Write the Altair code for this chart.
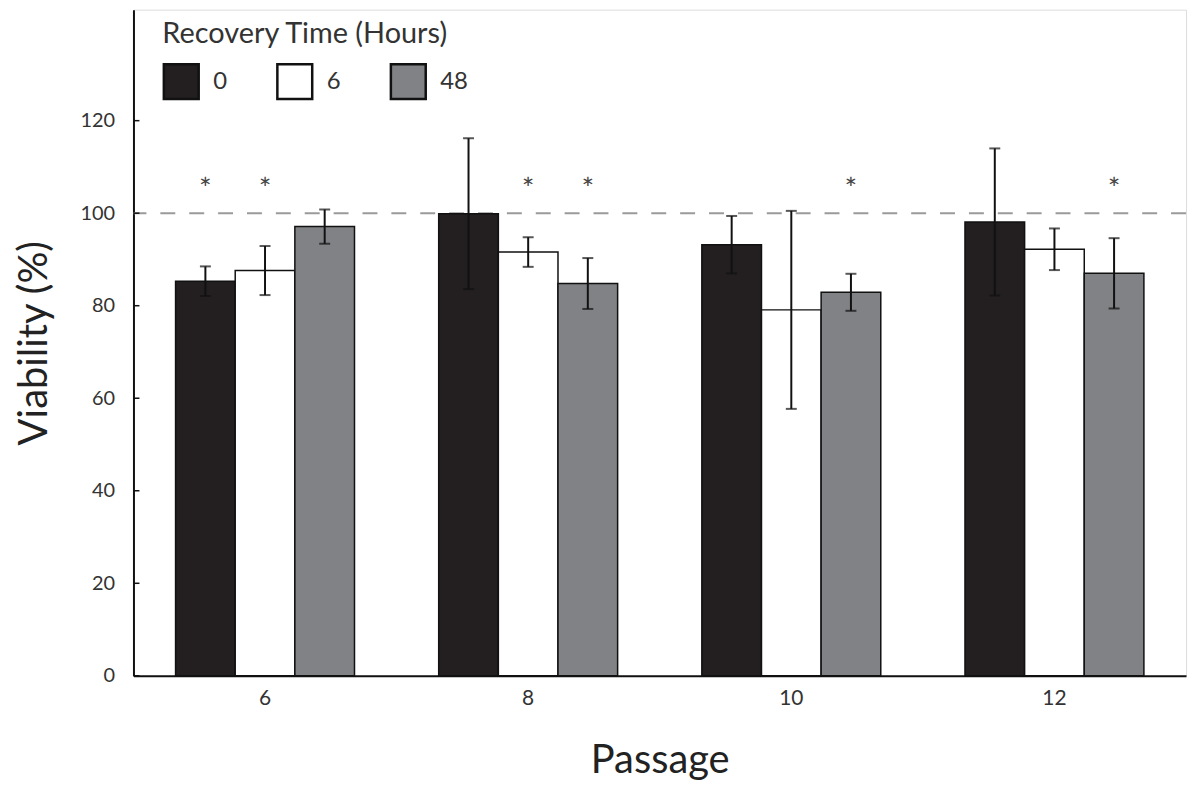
import altair as alt
import pandas as pd

passages = ["6", "8", "10", "12"]
recovery = ["0", "6", "48"]
mean_0 = [85.3, 99.9, 93.2, 98.1]
mean_6 = [87.6, 91.6, 79.1, 92.2]
mean_48 = [97.1, 84.8, 82.9, 87.0]
sd_0 = [3.2, 16.3, 6.2, 15.9]
sd_6 = [5.3, 3.2, 21.4, 4.5]
sd_48 = [3.7, 5.5, 4.0, 7.6]
star_passage = ["6", "6", "8", "8", "10", "12"]
star_recovery = ["0", "6", "6", "48", "48", "48"]
star_level = 107
ref_level = 100
y_ticks = [0, 20, 40, 60, 80, 100, 120]
colors = ["#231f20", "#ffffff", "#808285"]

rows = []
for r, ms, ss in zip(recovery, [mean_0, mean_6, mean_48], [sd_0, sd_6, sd_48]):
    for p, m, s in zip(passages, ms, ss):
        rows.append({"Passage": p, "Recovery": r, "Viability": m,
                     "lo": m - s, "hi": m + s})
df = pd.DataFrame(rows)
stars = pd.DataFrame({"Passage": star_passage, "Recovery": star_recovery,
                      "y": [star_level] * len(star_passage), "t": ["*"] * len(star_passage)})
ticks = pd.DataFrame({"v": y_ticks})

FONT = "Lato"
ysc = alt.Scale(domain=[0, 144], nice=False, zero=True)
xenc = alt.X("Passage:N", sort=passages,
             scale=alt.Scale(paddingInner=0.32, paddingOuter=0.16),
             axis=alt.Axis(title="Passage", labelAngle=0, ticks=False, labelPadding=12,
                           labelFontSize=21, titleFontSize=40, titlePadding=32,
                           titleFontWeight="normal", domainColor="#111", domainWidth=2,
                           labelColor="#333", titleColor="#222", labelFont=FONT, titleFont=FONT))
xoff = alt.XOffset("Recovery:N", sort=recovery, scale=alt.Scale(paddingInner=0, paddingOuter=0))

bars = alt.Chart(df).mark_bar(stroke="#111", strokeWidth=1.5).encode(
    x=xenc,
    xOffset=xoff,
    y=alt.Y("Viability:Q", scale=ysc,
            axis=alt.Axis(title="Viability (%)", values=y_ticks, ticks=False, grid=False,
                          labelFontSize=20, titleFontSize=40, titlePadding=26,
                          labelPadding=19, titleFontWeight="normal", domainColor="#111",
                          domainWidth=2, labelColor="#333", titleColor="#222",
                          labelFont=FONT, titleFont=FONT)),
    fill=alt.Fill("Recovery:N", sort=recovery,
                  scale=alt.Scale(domain=recovery, range=colors),
                  legend=alt.Legend(title="Recovery Time (Hours)", orient="none",
                                    legendX=29, legendY=11, direction="horizontal",
                                    columns=3, symbolType="square", symbolSize=1225,
                                    symbolStrokeColor="#111", symbolStrokeWidth=2.5,
                                    symbolOpacity=1, labelFontSize=24, titleFontSize=29,
                                    titleLimit=600, labelLimit=200,
                                    titleFontWeight="normal", titleColor="#333",
                                    labelColor="#333", labelOffset=13, columnPadding=45,
                                    titlePadding=13, padding=0, labelFont=FONT,
                                    titleFont=FONT)),
)

rules = alt.Chart(df).mark_rule(color="#111", strokeWidth=2).encode(
    x=alt.X("Passage:N", sort=passages), xOffset=xoff,
    y=alt.Y("lo:Q", scale=ysc), y2="hi:Q")
cap_lo = alt.Chart(df).mark_tick(color="#111", thickness=2, size=11, orient="horizontal").encode(
    x=alt.X("Passage:N", sort=passages), xOffset=xoff, y=alt.Y("lo:Q", scale=ysc))
cap_hi = alt.Chart(df).mark_tick(color="#111", thickness=2, size=11, orient="horizontal").encode(
    x=alt.X("Passage:N", sort=passages), xOffset=xoff, y=alt.Y("hi:Q", scale=ysc))

ref = alt.Chart(pd.DataFrame({"r": [ref_level]})).mark_rule(
    color="#9a9a9a", strokeWidth=2, strokeDash=[15, 14]).encode(y=alt.Y("r:Q", scale=ysc))

star_txt = alt.Chart(stars).mark_text(fontSize=30, color="#444", dy=18, baseline="alphabetic",
                                      font=FONT).encode(
    x=alt.X("Passage:N", sort=passages), xOffset=alt.XOffset("Recovery:N", sort=recovery),
    y=alt.Y("y:Q", scale=ysc), text="t:N")

yticks = alt.Chart(ticks).mark_rule(color="#111", strokeWidth=1.5).encode(
    y=alt.Y("v:Q", scale=ysc), x=alt.value(0), x2=alt.value(6))

chart = alt.layer(ref, bars, rules, cap_lo, cap_hi, star_txt, yticks).properties(
    width=1057, height=669,
    padding={"left": 6, "right": 0, "top": 0, "bottom": 0},
    background="white",
).configure_view(stroke=None).configure(font=FONT)

chart.save("out.html", embed_options={"renderer": "svg", "actions": False})
